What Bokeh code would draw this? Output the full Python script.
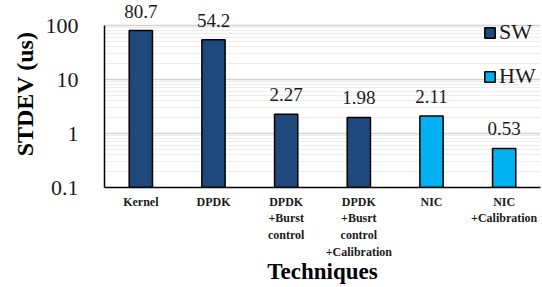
from bokeh.plotting import figure
from bokeh.models import (ColumnDataSource, FixedTicker, CustomJSTickFormatter,
                          FactorRange, LabelSet)
from bokeh.embed import file_html
from bokeh.resources import INLINE

techniques = ["Kernel", "DPDK", "DPDK\n+Burst\ncontrol",
              "DPDK\n+Busrt\ncontrol\n+Calibration", "NIC", "NIC\n+Calibration"]
stdev_us = [80.7, 54.2, 2.27, 1.98, 2.11, 0.53]
value_labels = ["80.7", "54.2", "2.27", "1.98", "2.11", "0.53"]
groups = ["SW", "SW", "SW", "SW", "HW", "HW"]
group_colors = {"SW": "#1F497D", "HW": "#00B0F0"}
y_ticks = [0.1, 1, 10, 100]
y_minor = [m * d for d in [0.1, 1, 10] for m in range(2, 10)]

src = ColumnDataSource(dict(
    x=techniques, top=stdev_us, lab=value_labels, grp=groups,
    color=[group_colors[g] for g in groups],
    bottom=[y_ticks[0]] * len(techniques),
))

FONT = "Liberation Serif"
W, H = 542, 287
# headroom above the top tick so value labels are not clipped (~25px at 54px/decade)
y_top = y_ticks[-1] * 10 ** (25 / 54)

p = figure(width=W, height=H, x_range=FactorRange(*techniques, range_padding=0),
           y_axis_type="log", y_range=(y_ticks[0], y_top),
           output_backend="svg", toolbar_location=None,
           min_border_left=104, min_border_right=2, min_border_top=0,
           min_border_bottom=100)
p.outline_line_color = None

p.vbar(x="x", top="top", bottom="bottom", width=0.32, source=src,
       fill_color="color", line_color="black", line_width=1.5,
       legend_field="grp")

p.add_layout(LabelSet(x="x", y="top", text="lab", source=src, y_offset=13,
                      text_align="center", text_baseline="alphabetic",
                      text_font=FONT, text_font_size="19px", text_color="#1a1a1a"))

# axes
yax = p.yaxis[0]
yax.ticker = FixedTicker(ticks=y_ticks, minor_ticks=y_minor)
yax.bounds = (y_ticks[0], y_ticks[-1])
yax.formatter = CustomJSTickFormatter(code="return tick >= 1 ? tick.toFixed(0) : tick.toFixed(1);")
yax.major_label_text_font = FONT
yax.major_label_text_font_size = "22px"
yax.major_label_text_color = "#1a1a1a"
yax.major_label_standoff = 20
yax.major_tick_line_color = None
yax.minor_tick_line_color = None
yax.axis_line_color = "black"
yax.axis_line_width = 1.5
yax.axis_label = "STDEV (us)"
yax.axis_label_text_font = FONT
yax.axis_label_text_font_size = "24px"
yax.axis_label_text_font_style = "bold"
yax.axis_label_text_color = "black"
yax.axis_label_standoff = 5

xax = p.xaxis[0]
xax.major_label_text_font = FONT
xax.major_label_text_font_size = "12px"
xax.major_label_text_font_style = "bold"
xax.major_label_text_color = "#1a1a1a"
xax.major_label_standoff = 1
xax.major_tick_line_color = None
xax.axis_line_color = "black"
xax.axis_line_width = 1.5
xax.axis_label = "Techniques"
xax.axis_label_text_font = FONT
xax.axis_label_text_font_size = "23px"
xax.axis_label_text_font_style = "bold"
xax.axis_label_text_color = "black"
xax.axis_label_standoff = -3

p.xgrid.grid_line_color = None
p.ygrid.grid_line_color = "#D4D4D4"
p.ygrid.grid_line_width = 1.5
p.ygrid.minor_grid_line_color = "#EDEDED"
p.ygrid.minor_grid_line_width = 1

leg = p.legend[0]
p.add_layout(leg, "center")
leg.location = (379, 98)
leg.orientation = "vertical"
leg.border_line_color = None
leg.background_fill_alpha = 0
leg.padding = 0
leg.margin = 0
leg.glyph_width = 13
leg.glyph_height = 13
leg.label_standoff = 3
leg.spacing = 18
leg.label_text_font = FONT
leg.label_text_font_size = "22px"
leg.label_text_color = "#1a1a1a"

open("out.html", "w").write(file_html(p, INLINE))
